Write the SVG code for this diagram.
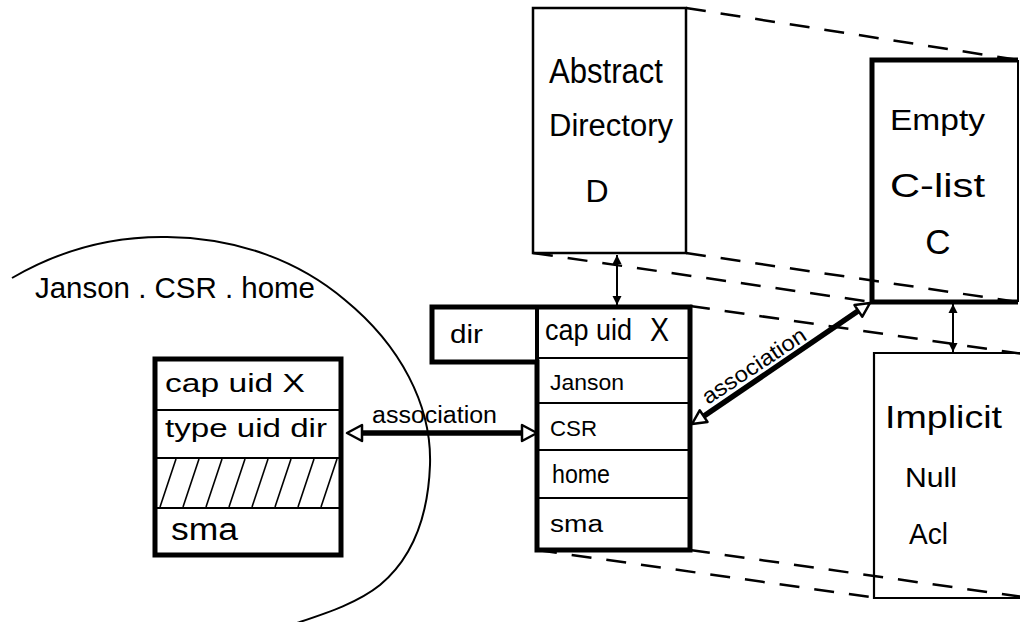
<svg xmlns="http://www.w3.org/2000/svg" width="1020" height="622" viewBox="0 0 1020 622">
<style>
.t{font-family:"Liberation Sans","DejaVu Sans",sans-serif;fill:#000}
.thick{fill:none;stroke:#000;stroke-width:5;stroke-linejoin:miter}
.thin{fill:none;stroke:#000;stroke-width:2}
.dash{fill:none;stroke:#000;stroke-width:2.5;stroke-dasharray:20 15}
.assoc{stroke:#000;stroke-width:5.5;fill:none}
.head{fill:#fff;stroke:#000;stroke-width:2.5;stroke-linejoin:round}
.small{stroke:#000;stroke-width:2;fill:none}
</style>
<defs>
<marker id="fh" viewBox="0 0 10 10" refX="10" refY="5" markerWidth="9" markerHeight="12" markerUnits="userSpaceOnUse" orient="auto-start-reverse">
<path d="M0,0 L10,5 L0,10 Z" fill="#000"/>
</marker>
<clipPath id="hatchclip"><rect x="156" y="459" width="184" height="48"/></clipPath>
</defs>
<rect width="1020" height="622" fill="#fff"/>

<g id="connectors">
<!-- perspective dashed edges -->
<line class="dash" x1="686" y1="8" x2="1018" y2="60"/>
<line class="dash" x1="686" y1="253" x2="1018" y2="302"/>
<line class="dash" x1="533" y1="253" x2="872" y2="302"/>
<line class="dash" x1="690" y1="306" x2="1030" y2="355"/>
<line class="dash" x1="690" y1="550" x2="1030" y2="598"/>
<line class="dash" x1="537" y1="550" x2="877" y2="598"/>
<!-- vertical double arrows -->
<line class="small" x1="617" y1="255" x2="617" y2="305" marker-start="url(#fh)" marker-end="url(#fh)"/>
<line class="small" x1="953" y1="304" x2="953" y2="352" marker-start="url(#fh)" marker-end="url(#fh)"/>
<!-- association: home dir entry <-> CSR -->
<line class="assoc" x1="361" y1="433" x2="524" y2="433"/>
<polygon class="head" points="347,433 362,425 362,441"/>
<polygon class="head" points="537,433 522,425 522,441"/>
<text class="t" x="372" y="423" font-size="23" textLength="125" lengthAdjust="spacingAndGlyphs">association</text>
<!-- association: CSR entry <-> C-list -->
<line class="assoc" x1="704" y1="416" x2="858" y2="311"/>
<polygon class="head" points="692,424 707.5,421.9 699.7,410.3"/>
<polygon class="head" points="870,303 862.3,316.7 854.5,305.1"/>
<text class="t" transform="translate(758,372) rotate(-33.5)" text-anchor="middle" font-size="22" textLength="120" lengthAdjust="spacingAndGlyphs">association</text>
</g>

<g id="node-abstract-directory">
<rect x="533" y="8" width="153" height="245" fill="none" stroke="#000" stroke-width="2.5"/>
<text class="t" x="549" y="83" font-size="35" textLength="114" lengthAdjust="spacingAndGlyphs">Abstract</text>
<text class="t" x="549" y="136" font-size="31" textLength="124" lengthAdjust="spacingAndGlyphs">Directory</text>
<text class="t" x="597" y="202" font-size="32" text-anchor="middle">D</text>
</g>

<g id="node-empty-clist">
<path class="thick" d="M1018,60 H872 V302 H1018"/>
<line class="thin" x1="1018" y1="60" x2="1018" y2="302"/>
<text class="t" x="890" y="130" font-size="29" textLength="95" lengthAdjust="spacingAndGlyphs">Empty</text>
<text class="t" x="890" y="197" font-size="34" textLength="95" lengthAdjust="spacingAndGlyphs">C-list</text>
<text class="t" x="938" y="254" font-size="35" text-anchor="middle">C</text>
</g>

<g id="node-implicit-null-acl">
<path d="M1020,353 H874 V598 H1020" fill="none" stroke="#000" stroke-width="2.2"/>
<text class="t" x="885" y="428" font-size="32" textLength="117" lengthAdjust="spacingAndGlyphs">Implicit</text>
<text class="t" x="905" y="487" font-size="28" textLength="52" lengthAdjust="spacingAndGlyphs">Null</text>
<text class="t" x="909" y="544" font-size="30" textLength="39" lengthAdjust="spacingAndGlyphs">Acl</text>
</g>

<g id="node-directory-entry">
<path class="thick" d="M432,307 H690 V550 H537 V362 H432 Z"/>
<line x1="537" y1="307" x2="537" y2="362" stroke="#000" stroke-width="4"/>
<line class="thin" x1="537" y1="358" x2="690" y2="358"/>
<line class="thin" x1="537" y1="403" x2="690" y2="403"/>
<line class="thin" x1="537" y1="450" x2="690" y2="450"/>
<line class="thin" x1="537" y1="498" x2="690" y2="498"/>
<text class="t" x="450" y="343" font-size="26" textLength="33" lengthAdjust="spacingAndGlyphs">dir</text>
<text class="t" x="545" y="340" font-size="29" textLength="87" lengthAdjust="spacingAndGlyphs">cap uid</text>
<text class="t" x="650" y="341" font-size="33" textLength="19" lengthAdjust="spacingAndGlyphs">X</text>
<text class="t" x="550" y="390" font-size="22" textLength="74" lengthAdjust="spacingAndGlyphs">Janson</text>
<text class="t" x="550" y="436" font-size="22" textLength="47" lengthAdjust="spacingAndGlyphs">CSR</text>
<text class="t" x="552" y="483" font-size="25" textLength="58" lengthAdjust="spacingAndGlyphs">home</text>
<text class="t" x="550" y="532" font-size="23" textLength="53" lengthAdjust="spacingAndGlyphs">sma</text>
</g>

<g id="node-janson-csr-home">
<path d="M12,278 C60,250 110,236 167,237 C240,238 300,262 345,300 C400,345 432,405 430,465 C428,520 410,560 380,585 C355,605 320,615 288,626" fill="none" stroke="#000" stroke-width="2"/>
<text class="t" x="35" y="298" font-size="30" textLength="280" lengthAdjust="spacingAndGlyphs">Janson . CSR . home</text>
</g>

<g id="node-home-entry">
<rect x="155" y="359" width="186" height="196" fill="#fff" stroke="#000" stroke-width="5"/>
<line class="thin" x1="155" y1="410" x2="341" y2="410"/>
<line class="thin" x1="155" y1="458" x2="341" y2="458"/>
<line class="thin" x1="155" y1="508" x2="341" y2="508"/>
<g clip-path="url(#hatchclip)" stroke="#000" stroke-width="1.6">
<line x1="160" y1="507" x2="176" y2="459"/>
<line x1="183" y1="507" x2="199" y2="459"/>
<line x1="206" y1="507" x2="222" y2="459"/>
<line x1="229" y1="507" x2="245" y2="459"/>
<line x1="252" y1="507" x2="268" y2="459"/>
<line x1="275" y1="507" x2="291" y2="459"/>
<line x1="298" y1="507" x2="314" y2="459"/>
<line x1="321" y1="507" x2="337" y2="459"/>
</g>
<text class="t" x="165" y="392" font-size="25" textLength="140" lengthAdjust="spacingAndGlyphs">cap uid  X</text>
<text class="t" x="165" y="437" font-size="25" textLength="162" lengthAdjust="spacingAndGlyphs">type uid dir</text>
<text class="t" x="171" y="540" font-size="31" textLength="67" lengthAdjust="spacingAndGlyphs">sma</text>
</g>
</svg>
